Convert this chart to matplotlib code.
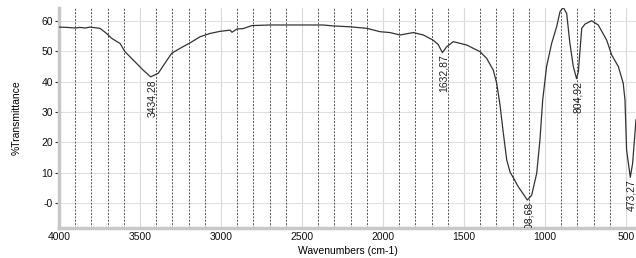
import matplotlib
matplotlib.use("Agg")
import matplotlib.pyplot as plt
from matplotlib.ticker import MultipleLocator, FixedLocator

# FTIR spectrum
wavenumber = [4000, 3950, 3900, 3870, 3840, 3809, 3747, 3706, 3675, 3623, 3593, 3541,
              3480, 3434.28, 3387, 3346, 3304, 3253, 3191, 3130, 3068, 3006, 2944,
              2932, 2901, 2864, 2809, 2698, 2370, 2309, 2204, 2100, 2019, 1957, 1895,
              1813, 1751, 1690, 1660, 1632.87, 1607, 1566, 1483, 1401, 1360, 1319,
              1298, 1278, 1257, 1236, 1216, 1165, 1108.68, 1082, 1051, 1031, 1014,
              990, 959, 928, 907, 887, 866, 846, 825, 804.92, 794, 773, 753, 712,
              671, 619, 588, 547, 517, 506, 496, 473.27, 459, 438]
transmittance = [58.0, 57.9, 57.7, 57.9, 57.7, 58.0, 57.6, 55.9, 54.3, 52.6, 49.9, 47.1,
                 43.8, 41.6, 42.8, 46.1, 49.4, 51.0, 52.8, 54.8, 55.9, 56.6, 57.0,
                 56.3, 57.4, 57.5, 58.5, 58.7, 58.7, 58.4, 58.1, 57.6, 56.5, 56.2, 55.4,
                 56.2, 55.4, 53.7, 52.3, 49.6, 51.5, 53.2, 52.1, 49.9, 47.7, 43.8,
                 39.5, 32.5, 23.0, 14.2, 10.3, 5.4, 1.0, 2.6, 9.8, 20.8, 34.0,
                 45.0, 52.6, 58.1, 63.1, 64.5, 62.5, 52.6, 45.0, 41.0, 43.3, 57.6, 59.0, 60.1,
                 58.7, 53.7, 48.8, 45.0, 39.5, 34.0, 17.5, 8.5, 13.0, 27.5]

peak_pos = [3434.28, 1632.87, 1108.68, 804.92, 473.27]
peak_val = [41.6, 49.6, 1.0, 41.0, 8.5]
peak_labels = ["3434,28", "1632,87", "1108,68", "804,92", "473,27"]

y_ticks = [60, 50, 40, 30, 20, 10, 0]
y_tick_labels = ["60", "50", "40", "30", "20", "10", "-0"]
x_ticks = [4000, 3500, 3000, 2500, 2000, 1500, 1000, 500]

plt.rcParams["font.family"] = ["Liberation Sans", "DejaVu Sans"]

fig = plt.figure(figsize=(6.36, 2.58), dpi=100)
ax = fig.add_axes([0.0928, 0.116, 0.9072, 0.853])

ax.set_xlim(4000, 438)
ax.set_ylim(-8.25, 64.3)

# light solid grid
for v in x_ticks:
    ax.axvline(v, color="#d9d9d9", lw=0.8, zorder=0)
for v in y_ticks:
    ax.axhline(v, color="#e0e0e0", lw=0.8, zorder=0)
# dashed lines every 100 cm-1
for v in range(3900, 400, -100):
    if v % 500 != 0:
        ax.axvline(v, color="#555555", lw=0.7, ls=(0, (2, 1.5)), zorder=1)

ax.plot(wavenumber, transmittance, color="#333333", lw=0.9, zorder=3)

for p, v, lab in zip(peak_pos, peak_val, peak_labels):
    ax.annotate(lab, xy=(p, v), xytext=(1, -1.5), textcoords="offset points",
                rotation=90, ha="center", va="top", fontsize=7.5,
                color="#222222", annotation_clip=False, clip_on=True, zorder=4)

ax.set_xticks(x_ticks)
ax.set_xticklabels([str(x) for x in x_ticks])
ax.yaxis.set_major_locator(FixedLocator(y_ticks))
ax.set_yticklabels(y_tick_labels)
ax.yaxis.set_minor_locator(MultipleLocator(2))

for s in ("top", "right"):
    ax.spines[s].set_visible(False)
for s in ("left", "bottom"):
    ax.spines[s].set_color("#c8c8c8")
    ax.spines[s].set_linewidth(2.5)

ax.tick_params(axis="both", which="major", length=3, width=0.8, color="#333333",
               labelsize=7.5, labelcolor="#111111", pad=1.5)
ax.tick_params(axis="y", which="minor", length=2, width=0.8, color="#333333",
               direction="inout")
ax.tick_params(axis="x", which="major", length=0, pad=3)

ax.set_xlabel("Wavenumbers (cm-1)", fontsize=7.5, labelpad=3)
ax.set_ylabel("%Transmittance", fontsize=7.5, labelpad=14)

fig.savefig("out.png", dpi=100)
